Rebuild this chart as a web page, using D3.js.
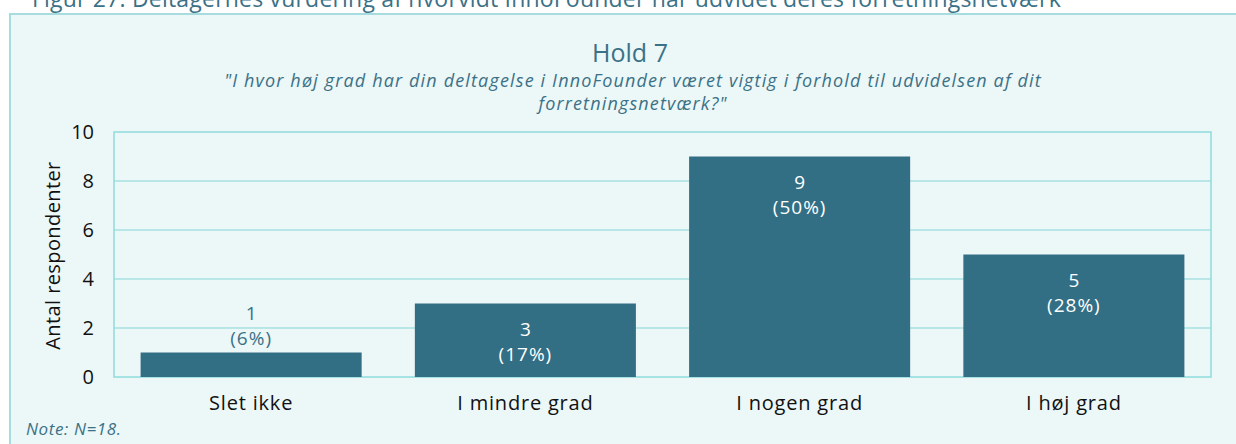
<!DOCTYPE html>
<html><head><meta charset="utf-8">
<script src="https://cdn.jsdelivr.net/npm/d3@7"></script>
<style>body{margin:0;background:#fff;overflow:hidden}svg{display:block}text{font-family:"Open Sans","Noto Sans",sans-serif}</style>
</head><body>
<svg id="c" width="1236" height="444"></svg>
<script>
const categories = ["Slet ikke", "I mindre grad", "I nogen grad", "I høj grad"];
const counts = [1, 3, 9, 5];
const percents = ["6%", "17%", "50%", "28%"];
const yTicks = [0, 2, 4, 6, 8, 10];
const figTitle = "Figur 27: Deltagernes vurdering af hvorvidt InnoFounder har udvidet deres forretningsnetværk";
const title = "Hold 7";
const subtitle = ["\"I hvor høj grad har din deltagelse i InnoFounder været vigtig i forhold til udvidelsen af dit", "forretningsnetværk?\""];
const yTitle = "Antal respondenter";
const note = "Note: N=18.";

const svg = d3.select("#c");
const teal = "#336F84", txt = "#3B7186";
svg.append("text").attr("x", 32).attr("y", 7).attr("font-size", 23).attr("letter-spacing", 0.2).attr("fill", txt).text(figTitle);
svg.append("rect").attr("x", 10).attr("y", 14).attr("width", 1240).attr("height", 440)
  .attr("fill", "#ECF7F8").attr("stroke", "#A6DCDF").attr("stroke-width", 2);

const m = {l: 114, r: 1211, t: 132, b: 377};
const x = d3.scaleBand().domain(categories).range([m.l, m.r]).paddingInner(0.194).paddingOuter(0.097);
const y = d3.scaleLinear().domain([0, 10]).range([m.b, m.t]);

svg.append("text").attr("x", 630).attr("y", 62).attr("text-anchor", "middle").attr("font-size", 25).attr("fill", txt).text(title);
subtitle.forEach((s, i) => svg.append("text").attr("x", 633).attr("y", 87 + i * 23).attr("text-anchor", "middle")
  .attr("font-size", 18).attr("letter-spacing", 1.15).attr("font-style", "italic").attr("fill", txt).text(s));

// grid
const g = svg.append("g");
g.selectAll("line.grid").data(yTicks.filter(d => d > 0 && d < 10)).join("line")
  .attr("x1", m.l).attr("x2", m.r).attr("y1", d => y(d)).attr("y2", d => y(d))
  .attr("stroke", "#A9E2E2").attr("stroke-width", 1.5);
g.append("rect").attr("x", m.l).attr("y", m.t).attr("width", m.r - m.l).attr("height", m.b - m.t)
  .attr("fill", "none").attr("stroke", "#8FDCDC").attr("stroke-width", 1.5);

const ff = "'Open Sans','Noto Sans',sans-serif";
// y axis
const yAxis = d3.axisLeft(y).tickValues(yTicks).tickSize(0).tickPadding(0);
const ya = svg.append("g").attr("transform", `translate(${m.l - 20},0)`).call(yAxis);
ya.select(".domain").remove();
ya.selectAll("text").attr("font-size", 20).attr("fill", "#111").attr("font-family", ff);

svg.append("text").attr("transform", `translate(60,${(m.t + m.b) / 2 + 1}) rotate(-90)`).attr("text-anchor", "middle")
  .attr("font-size", 20).attr("letter-spacing", 0.4).attr("fill", "#111").text(yTitle);

// x axis
const xAxis = d3.axisBottom(x).tickSize(0).tickPadding(0);
const xa = svg.append("g").attr("transform", `translate(0,${m.b + 18})`).call(xAxis);
xa.select(".domain").remove();
xa.selectAll("text").attr("font-size", 20).attr("letter-spacing", 0.8).attr("fill", "#111").attr("dy", "0.75em").attr("font-family", ff);

// bars
svg.selectAll("rect.bar").data(categories).join("rect").attr("class", "bar")
  .attr("x", d => x(d)).attr("width", x.bandwidth())
  .attr("y", (d, i) => y(counts[i])).attr("height", (d, i) => y(0) - y(counts[i]))
  .attr("fill", teal);

categories.forEach((c, i) => {
  const inside = (y(0) - y(counts[i])) > 60;
  const cx = x(c) + x.bandwidth() / 2;
  const top = y(counts[i]);
  const y1 = inside ? top + 32 : top - 33;
  const col = inside ? "#fff" : txt;
  svg.append("text").attr("x", cx).attr("y", y1).attr("text-anchor", "middle").attr("font-size", 19).attr("fill", col).text(counts[i]);
  svg.append("text").attr("x", cx).attr("y", y1 + 25).attr("text-anchor", "middle").attr("font-size", 19).attr("letter-spacing", 1).attr("fill", col).text(`(${percents[i]})`);
});

svg.append("text").attr("x", 26).attr("y", 435).attr("font-size", 17).attr("letter-spacing", 0.6).attr("font-style", "italic").attr("fill", txt).text(note);
</script>
</body></html>
